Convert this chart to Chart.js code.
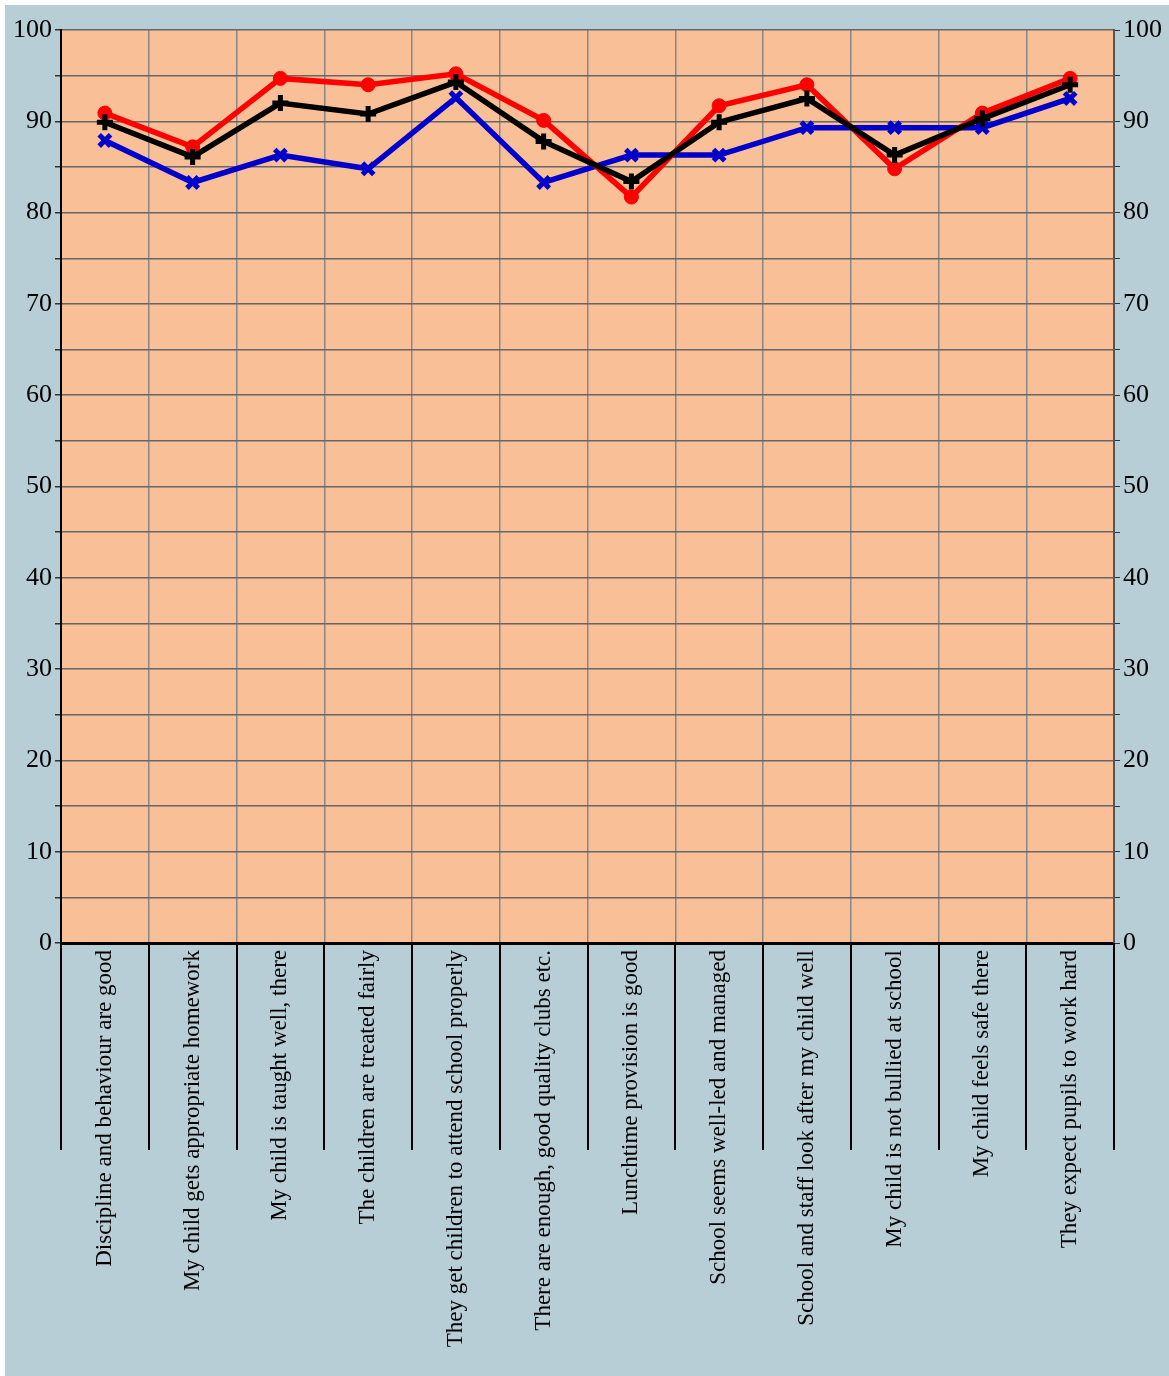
<!DOCTYPE html>
<html lang="en">
<head>
    <meta charset="UTF-8">
    <title>Parent Questionnaire</title>
    <script src="https://cdn.jsdelivr.net/npm/chart.js"></script>
    <style>
        body {
            margin: 0;
            padding: 0;
            background-color: #ffffff;
        }

        .chart-box {
            position: absolute;
            left: 5px;
            top: 5px;
            width: 1164px;
            height: 1371px;
        }
    </style>
</head>
<body>
    <div class="chart-box">
        <canvas id="surveyChart"></canvas>
    </div>

    <script>
        // Categories (questions)
        const questions = [
            'Discipline and behaviour are good',
            'My child gets appropriate homework',
            'My child is taught well, there',
            'The children are treated fairly',
            'They get children to attend school properly',
            'There are enough, good quality clubs etc.',
            'Lunchtime provision is good',
            'School seems well-led and managed',
            'School and staff look after my child well',
            'My child is not bullied at school',
            'My child feels safe there',
            'They expect pupils to work hard'
        ];

        // Series values (%)
        const redValues = [90.9, 87.2, 94.7, 94.0, 95.2, 90.1, 81.7, 91.7, 94.0, 84.8, 90.9, 94.7];
        const blackValues = [89.9, 86.1, 92.0, 90.8, 94.3, 87.8, 83.4, 89.9, 92.5, 86.3, 90.3, 94.0];
        const blueValues = [87.9, 83.3, 86.3, 84.8, 92.6, 83.3, 86.3, 86.3, 89.3, 89.3, 89.3, 92.5];

        const serif = "'Liberation Serif', 'Times New Roman', serif";

        // Backgrounds + separator lines under the category axis
        const decorPlugin = {
            id: 'decor',
            beforeDraw(chart) {
                const { ctx, chartArea } = chart;
                ctx.save();
                ctx.fillStyle = '#b8ced6';
                ctx.fillRect(0, 0, chart.width, chart.height);
                ctx.fillStyle = '#f9bf96';
                ctx.fillRect(chartArea.left, chartArea.top, chartArea.right - chartArea.left, chartArea.bottom - chartArea.top);
                ctx.restore();
            },
            afterDraw(chart) {
                const { ctx, chartArea } = chart;
                const x = chart.scales.x;
                const n = questions.length;
                ctx.save();
                ctx.strokeStyle = '#000';
                ctx.lineWidth = 2;
                for (let i = 0; i <= n; i++) {
                    const px = Math.round(x.left + i * (x.width / n));
                    ctx.beginPath();
                    ctx.moveTo(px, chartArea.bottom);
                    ctx.lineTo(px, chartArea.bottom + 207);
                    ctx.stroke();
                }
                ctx.restore();
            }
        };

        const yTicks = {
            stepSize: 5,
            padding: 3,
            color: '#000',
            font: { family: serif, size: 26 },
            callback: v => (v % 10 === 0 ? v : '')
        };

        new Chart(document.getElementById('surveyChart'), {
            type: 'line',
            data: {
                labels: questions,
                datasets: [
                    {
                        data: blackValues,
                        borderColor: '#000',
                        backgroundColor: '#000',
                        borderWidth: 5.5,
                        pointStyle: 'cross',
                        pointRadius: 8,
                        pointBorderWidth: 5
                    },
                    {
                        data: redValues,
                        borderColor: '#ff0000',
                        backgroundColor: '#ff0000',
                        borderWidth: 5.5,
                        pointStyle: 'circle',
                        pointRadius: 7,
                        pointBorderWidth: 1
                    },
                    {
                        data: blueValues,
                        borderColor: '#0000cc',
                        backgroundColor: '#0000cc',
                        borderWidth: 5.5,
                        pointStyle: 'crossRot',
                        pointRadius: 8,
                        pointBorderWidth: 5
                    }
                ]
            },
            options: {
                responsive: true,
                maintainAspectRatio: false,
                animation: false,
                layout: { padding: { top: 25, left: 0, right: 0, bottom: 0 } },
                plugins: {
                    legend: { display: false },
                    tooltip: { enabled: false }
                },
                scales: {
                    x: {
                        offset: true,
                        grid: {
                            offset: true,
                            color: '#888',
                            lineWidth: 1.5,
                            drawTicks: false
                        },
                        border: { color: '#000', width: 3 },
                        ticks: {
                            autoSkip: false,
                            minRotation: 90,
                            maxRotation: 90,
                            padding: 7,
                            color: '#000',
                            font: { family: serif, size: 23 }
                        },
                        afterFit: s => { s.height = 433; }
                    },
                    y: {
                        position: 'left',
                        min: 0,
                        max: 100,
                        grid: {
                            color: '#666',
                            lineWidth: 1.5,
                            tickLength: 6,
                            tickColor: '#333'
                        },
                        border: { color: '#000', width: 2 },
                        ticks: yTicks,
                        afterFit: s => { s.width = 56; }
                    },
                    y2: {
                        position: 'right',
                        min: 0,
                        max: 100,
                        grid: {
                            drawOnChartArea: false,
                            tickLength: 6,
                            tickColor: '#333'
                        },
                        border: { color: '#555', width: 2 },
                        ticks: yTicks,
                        afterFit: s => { s.width = 55; }
                    }
                }
            },
            plugins: [decorPlugin]
        });
    </script>
</body>
</html>
